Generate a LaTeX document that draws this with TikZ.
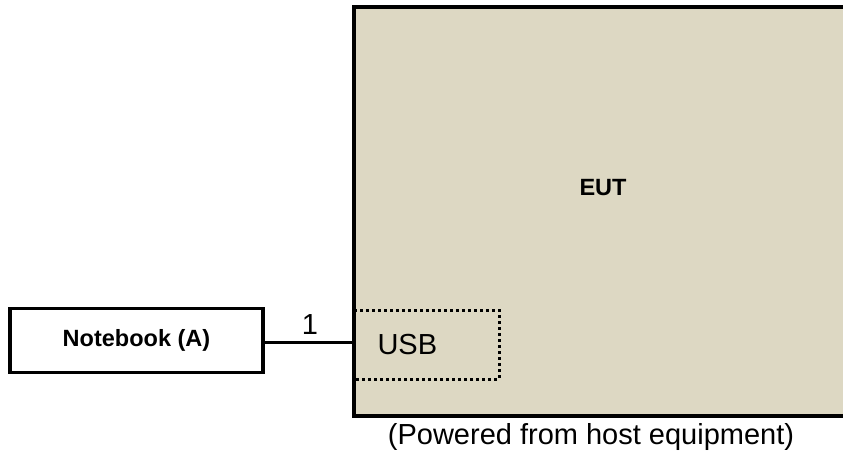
\documentclass[tikz,border=0pt]{standalone}
\usepackage{fontspec}
\setmainfont{Liberation Sans}
\definecolor{eutfill}{RGB}{221,216,195}
\begin{document}
\begin{tikzpicture}[x=1pt,y=-1pt,
  frame/.style={line width=3.5pt},
  boldtxt/.style={font=\fontsize{23.5}{27}\selectfont\bfseries},
  regtxt/.style={font=\fontsize{29}{33}\selectfont},
  dotbox/.style={line width=3pt, dash pattern=on 3pt off 3pt}]
\useasboundingbox (0,0) rectangle (843,454);
% EUT box (open on the right)
\fill[eutfill] (354,7) rectangle (845,416);
\draw[frame] (845,7) -- (354,7) -- (354,416) -- (845,416);
\coordinate (eutleft) at (354,342);
\node[boldtxt] (eut) at (603,188) {EUT};
% USB dotted port
\draw[dotbox] (354,310) -- (499,310) -- (499,379) -- (354,379);
\node[regtxt, anchor=west] (usb) at (374,345) {USB};
% Notebook
\node[draw, frame, minimum width=253pt, minimum height=64pt, inner sep=0pt, boldtxt] (nb) at (136.5,340.5) {Notebook (A)};
% cable
\draw[line width=3pt] (nb.east |- eutleft) -- (eutleft);
\node[regtxt] (one) at (310,325) {1};
\node[regtxt] (pwr) at (591,437) {(Powered from host equipment)};
\end{tikzpicture}
\end{document}
